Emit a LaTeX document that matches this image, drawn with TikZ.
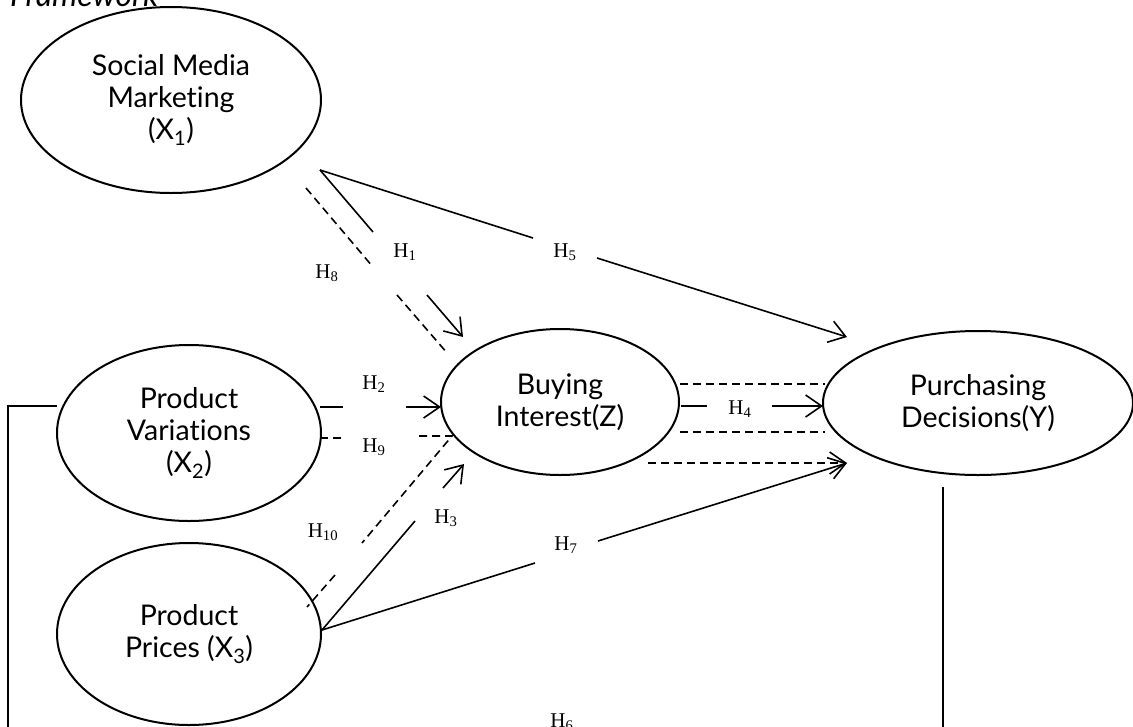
\documentclass[tikz,border=0pt]{standalone}
\usepackage{fontspec}
\setmainfont{Liberation Serif}
\newfontfamily\lat[Ligatures=NoCommon]{Lato}
\usetikzlibrary{arrows.meta,shapes.geometric}
\begin{document}
\begin{tikzpicture}[x=1pt,y=-1pt,
  construct/.style={draw, line width=2pt, ellipse, inner sep=0pt, align=center,
    font=\lat\fontsize{28.5}{32}\selectfont},
  link/.style={line width=1.6pt},
  dlink/.style={line width=1.6pt, dash pattern=on 8pt off 5pt},
  tip/.style={-{Straight Barb[length=16pt,width=22pt,line width=1.6pt]}},
  hlab/.style={font=\fontsize{21}{23}\selectfont, inner sep=0pt}]
\useasboundingbox (0,0) rectangle (1133,726);

\node[font=\lat\itshape\fontsize{32}{34}\selectfont, anchor=base west, inner sep=0pt] (fw) at (10,6) {Framework};

\node[construct, minimum width=300pt, minimum height=186pt] (x1) at (171,100) {Social Media\\Marketing\\(X\textsubscript{1})};
\node[construct, minimum width=264pt, minimum height=176pt] (x2) at (189,433) {Product\\Variations\\(X\textsubscript{2})};
\node[construct, minimum width=264pt, minimum height=182pt] (x3) at (189,634) {Product\\Prices (X\textsubscript{3})};
\node[construct, minimum width=238pt, minimum height=146pt] (z) at (560,402) {Buying\\Interest(Z)};
\node[construct, minimum width=310pt, minimum height=144pt] (y) at (978,403) {Purchasing\\Decisions(Y)};

% labels
\node[hlab] (h1) at (405,252) {H\textsubscript{1}};
\node[hlab] (h5) at (565,252) {H\textsubscript{5}};
\node[hlab] (h8) at (327,273) {H\textsubscript{8}};
\node[hlab] (h2) at (374,384) {H\textsubscript{2}};
\node[hlab] (h9) at (374,447) {H\textsubscript{9}};
\node[hlab] (h10) at (323,532) {H\textsubscript{10}};
\node[hlab] (h3) at (446,518) {H\textsubscript{3}};
\node[hlab] (h7) at (566,545) {H\textsubscript{7}};
\node[hlab] (h4) at (740,409) {H\textsubscript{4}};
\node[hlab] (h6) at (562,722) {H\textsubscript{6}};

% coordinates
\coordinate (apex) at (320,170);
\coordinate (h1a) at (373,232);
\coordinate (h1b) at (427,295);
\coordinate (h1t) at (463,337);
\coordinate (h5a) at (533,238);
\coordinate (h5b) at (597,258);
\coordinate (h5t) at (847,337);
\coordinate (h8s) at (306,188);
\coordinate (h8a) at (373,267);
\coordinate (h8b) at (397,295);
\coordinate (h8e) at (448,354);
\coordinate (h2s) at (320,407);
\coordinate (h2a) at (343,407);
\coordinate (h2b) at (406,407);
\coordinate (h2t) at (441,407);
\coordinate (h9s) at (320,438);
\coordinate (h9a) at (343,438);
\coordinate (h9b) at (419,436);
\coordinate (h9c) at (452,436);
\coordinate (h10a) at (362,543);
\coordinate (h10b) at (335,575);
\coordinate (h10s) at (307,607);
\coordinate (x3r) at (322,630);
\coordinate (h3a) at (415,521);
\coordinate (h3b) at (443,488);
\coordinate (h3t) at (464,464);
\coordinate (h7a) at (535,563);
\coordinate (h7b) at (598,541);
\coordinate (h7t) at (847,463);
\coordinate (h4s) at (681,406);
\coordinate (h4a) at (707,406);
\coordinate (h4b) at (772,406);
\coordinate (h4t) at (823,406);
\coordinate (du1) at (680,384);
\coordinate (du2) at (825,384);
\coordinate (dl1) at (680,432);
\coordinate (dl2) at (825,432);
\coordinate (db1) at (648,463);
\coordinate (brk) at (8,406);
\coordinate (brkb) at (8,730);
\coordinate (x2l) at (57,406);
\coordinate (yv) at (943,487);
\coordinate (yvb) at (943,730);

% H1
\draw[link] (apex) -- (h1a);
\draw[link,tip] (h1b) -- (h1t);
% H5
\draw[link] (apex) -- (h5a);
\draw[link,tip] (h5b) -- (h5t);
% H8
\draw[dlink] (h8s) -- (h8a);
\draw[dlink] (h8b) -- (h8e);
% H2
\draw[link] (h2s) -- (h2a);
\draw[link,tip] (h2b) -- (h2t);
% H9 / H10
\draw[dlink] (h9s) -- (h9a);
\draw[dlink] (h9b) -- (h9c) -- (h10a);
\draw[dlink] (h10b) -- (h10s);
% H3
\draw[link] (x3r) -- (h3a);
\draw[link,tip] (h3b) -- (h3t);
% H7
\draw[link] (x3r) -- (h7a);
\draw[link,tip] (h7b) -- (h7t);
% H4
\draw[link] (h4s) -- (h4a);
\draw[link,tip] (h4b) -- (h4t);
% dashed mediation lines
\draw[dlink] (du1) -- (du2);
\draw[dlink] (dl1) -- (dl2);
\draw[dlink,tip] (db1) -- (h7t);
% H6 bracket
\draw[link] (x2l) -- (brk) -- (brkb);
\draw[link] (yv) -- (yvb);
\end{tikzpicture}
\end{document}
